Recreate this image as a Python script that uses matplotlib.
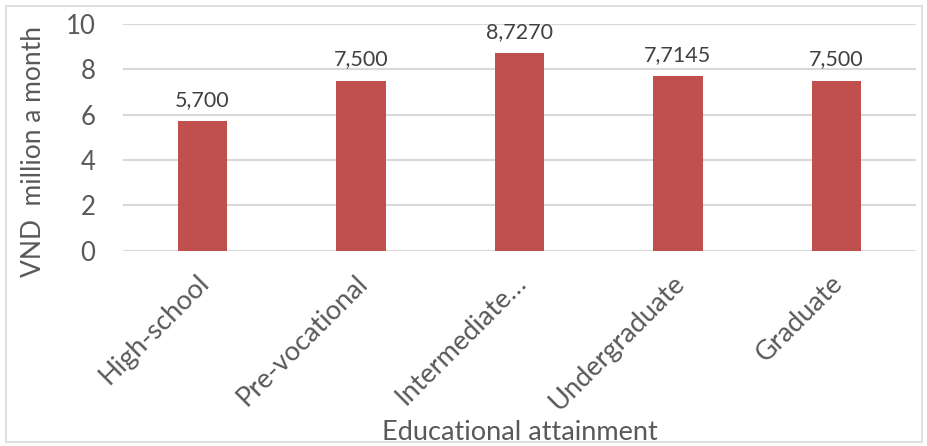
import matplotlib
matplotlib.use("Agg")
import matplotlib.pyplot as plt
from matplotlib.patches import Rectangle
from matplotlib.transforms import ScaledTranslation

categories = ["High-school", "Pre-vocational", "Intermediate…", "Undergraduate", "Graduate"]
values = [5.700, 7.500, 8.7270, 7.7145, 7.500]
value_labels = ["5,700", "7,500", "8,7270", "7,7145", "7,500"]
yticks = [0, 2, 4, 6, 8, 10]

plt.rcParams['font.family'] = ['Lato', 'DejaVu Sans']
text_color = "#595959"

fig = plt.figure(figsize=(9.28, 4.46), dpi=100)
ax = fig.add_axes([0.1328, 0.4379, 0.8540, 0.5083])

x = range(len(categories))
bars = ax.bar(x, values, width=0.315, color="#C0504D", zorder=3)
for b, lab in zip(bars, value_labels):
    ax.annotate(lab, (b.get_x() + b.get_width() / 2, b.get_height()),
                xytext=(0, 8), textcoords="offset points", ha="center", va="bottom",
                fontsize=15.5, color="#404040")

ax.set_xlim(-0.5, len(categories) - 0.5)
ax.set_ylim(0, 10)
ax.set_yticks(yticks)
ax.set_yticklabels([str(t) for t in yticks], fontsize=18.5, color=text_color)
ax.yaxis.grid(True, color="#D9D9D9", linewidth=1.5, zorder=0)
ax.set_axisbelow(True)
for s in ax.spines.values():
    s.set_visible(False)
ax.tick_params(axis="y", length=0, pad=20)
ax.tick_params(axis="x", length=0, pad=14)
ax.set_xticks(list(x))
ax.set_xticklabels(categories, rotation=45, ha="right", rotation_mode="anchor",
                   fontsize=19.5, color=text_color)
shift = ScaledTranslation(-6 / 100, 0, fig.dpi_scale_trans)
for t in ax.get_xticklabels():
    t.set_transform(t.get_transform() + shift)
ax.set_ylabel("VND  million a month", fontsize=19, color=text_color)
ax.yaxis.set_label_coords(-0.097, 0.436)
ax.set_xlabel("Educational attainment", fontsize=19.5, color=text_color, labelpad=4)

fig.patches.append(Rectangle((0.006, 0.008), 0.988, 0.978, transform=fig.transFigure,
                             fill=False, edgecolor="#D9D9D9", linewidth=1.2))

fig.savefig("out.png", dpi=100)
